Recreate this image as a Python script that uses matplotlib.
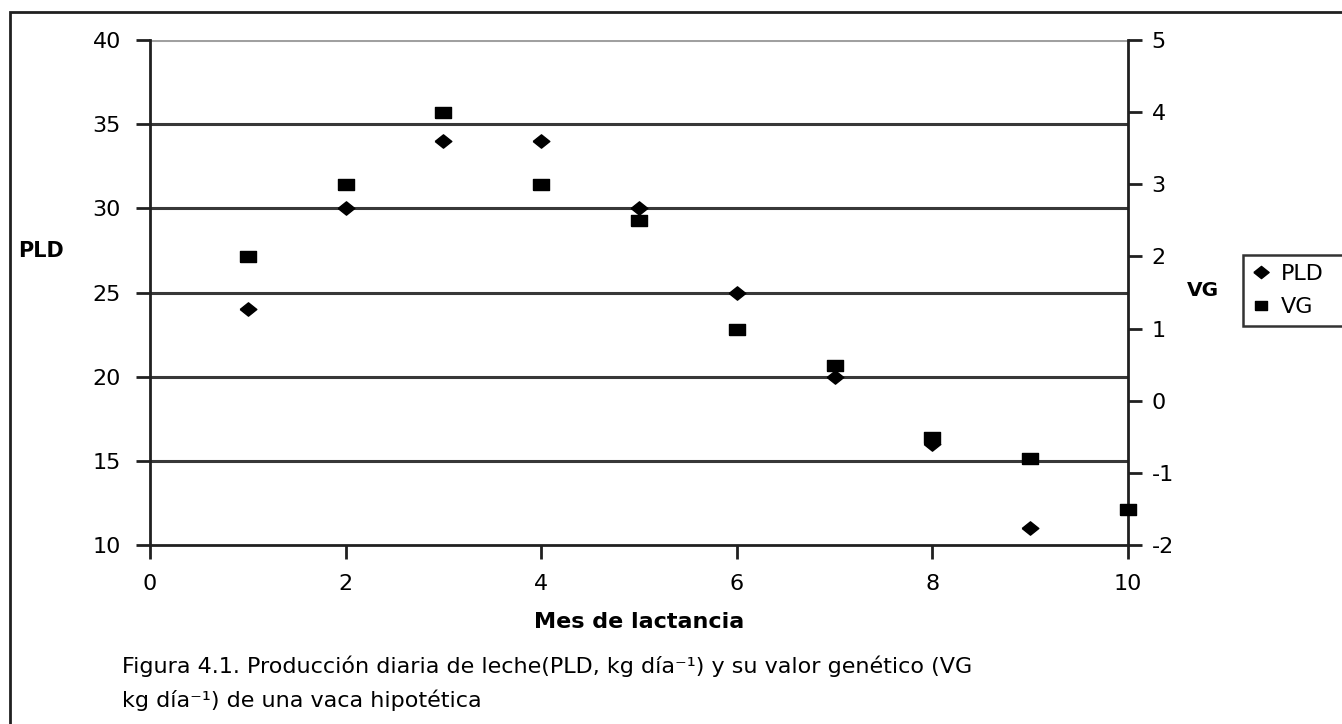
import matplotlib.pyplot as plt
import numpy as np
from matplotlib.patches import Rectangle
from matplotlib.lines import Line2D

plt.rcParams['font.family'] = ['DejaVu Sans']
plt.rcParams['axes.unicode_minus'] = False

# monthly milk yield and its breeding value
meses_pld = [1, 2, 3, 4, 5, 6, 7, 8, 9]
pld = [24, 30, 34, 34, 30, 25, 20, 16, 11]
meses_vg = [1, 2, 3, 4, 5, 6, 7, 8, 9, 10]
vg = [2, 3, 4, 3, 2.5, 1, 0.5, -0.5, -0.8, -1.5]

x_ticks = [0, 2, 4, 6, 8, 10]
pld_ticks = [10, 15, 20, 25, 30, 35, 40]
vg_ticks = [-2, -1, 0, 1, 2, 3, 4, 5]

# excel-style markers: flat diamond and wide square
diamond = [(-1, 0), (0, 0.8), (1, 0), (0, -0.8), (-1, 0)]
square = [(-1, -0.72), (1, -0.72), (1, 0.72), (-1, 0.72), (-1, -0.72)]

fig = plt.figure(figsize=(13.42, 7.24), dpi=100)
W, H = 1342, 724
ax = fig.add_axes([150 / W, 1 - 545 / H, (1128 - 150) / W, (545 - 40) / H])
ax2 = ax.twinx()

ax.set_xlim(0, 10)
ax.set_ylim(10, 40)
ax2.set_ylim(-2, 5)

for y in pld_ticks[1:-1]:
    ax.axhline(y, color='#383838', lw=2.2, zorder=1)
ax.axhline(40, color='#a0a0a0', lw=2.2, zorder=1)

ax.plot(meses_pld, pld, linestyle='none', marker=diamond, ms=12,
        color='black', zorder=3, clip_on=False)
ax2.plot(meses_vg, vg, linestyle='none', marker=square, ms=11,
         color='black', zorder=3, clip_on=False)

for a in (ax, ax2):
    for s in a.spines.values():
        s.set_linewidth(2)
        s.set_color('#202020')
    a.spines['top'].set_visible(False)
ax2.spines['left'].set_visible(False)
ax2.spines['bottom'].set_visible(False)
ax.spines['right'].set_visible(False)

ax.set_xticks(x_ticks)
ax.set_yticks(pld_ticks)
ax2.set_yticks(vg_ticks)
ax.tick_params(axis='both', direction='out', length=10, width=2,
               color='#202020', labelsize=16, pad=11)
ax2.tick_params(axis='y', direction='out', length=10, width=2,
                color='#202020', labelsize=16, pad=7)
ax.tick_params(axis='x', pad=11)

fig.text(18 / W, 1 - 251 / H, 'PLD', fontsize=15, fontweight='bold',
         va='center', ha='left')
fig.text(1187 / W, 1 - 291 / H, 'VG', fontsize=14.5, fontweight='bold',
         va='center', ha='left')
fig.text(639 / W, 1 - 622 / H, 'Mes de lactancia', fontsize=16,
         fontweight='bold', va='center', ha='center')

fig.text(122 / W, 1 - 666 / H,
         'Figura 4.1. Producción diaria de leche(PLD, kg día⁻¹) y su valor genético (VG',
         fontsize=16, va='center', ha='left')
fig.text(122 / W, 1 - 700 / H,
         'kg día⁻¹) de una vaca hipotética',
         fontsize=16, va='center', ha='left')

handles = [
    Line2D([], [], linestyle='none', marker=diamond, ms=11, color='black'),
    Line2D([], [], linestyle='none', marker=square, ms=9, color='black'),
]
leg = fig.legend(handles, ['PLD', 'VG'], loc='upper left',
                 bbox_to_anchor=(1243 / W, 1 - 255 / H, 130 / W, 0),
                 mode='expand', fontsize=16,
                 frameon=True, fancybox=False, handlelength=0.8,
                 handletextpad=0.5, borderpad=0.4, labelspacing=0.6,
                 borderaxespad=0)
leg.get_frame().set_edgecolor('black')
leg.get_frame().set_linewidth(1.8)

# outer chart-area border
fig.patches.append(Rectangle((10 / W, -0.1), 2, 1 - 12 / H + 0.1,
                             transform=fig.transFigure, fill=False,
                             edgecolor='#202020', lw=2))

fig.savefig('out.png', dpi=100)
